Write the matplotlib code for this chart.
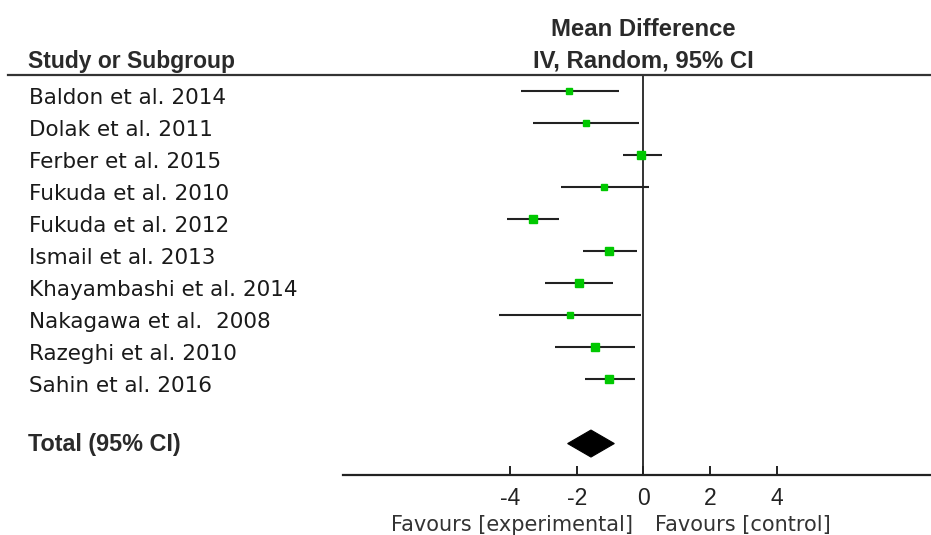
import matplotlib
matplotlib.use("Agg")
import matplotlib.pyplot as plt
from matplotlib.lines import Line2D
from matplotlib.patches import Polygon

studies = ["Baldon et al. 2014", "Dolak et al. 2011", "Ferber et al. 2015",
           "Fukuda et al. 2010", "Fukuda et al. 2012", "Ismail et al. 2013",
           "Khayambashi et al. 2014", "Nakagawa et al.  2008", "Razeghi et al. 2010",
           "Sahin et al. 2016"]
mean_diff = [-2.23, -1.72, -0.06, -1.17, -3.31, -1.02, -1.93, -2.20, -1.45, -1.02]
ci_low = [-3.67, -3.31, -0.60, -2.47, -4.09, -1.80, -2.95, -4.33, -2.64, -1.74]
ci_high = [-0.72, -0.12, 0.55, 0.18, -2.52, -0.18, -0.90, -0.06, -0.24, -0.24]
weights = [9.0, 7.0, 12.0, 7.0, 11.5, 11.0, 10.5, 6.0, 11.0, 11.5]
total_label = "Total (95% CI)"
total_mean, total_low, total_high = -1.57, -2.27, -0.87
xticks = [-4, -2, 0, 2, 4]

W, H = 931, 535
plt.rcParams['font.family'] = ['Liberation Sans', 'DejaVu Sans']
fig = plt.figure(figsize=(W / 100, H / 100), dpi=100)

# plot axes: left at px 343, right at 931, top at header line (75), bottom at axis line (475)
x_left_px, x_zero_px, px_per_unit = 343, 643.3, 33.33
top_px, bot_px = 75, 475
row0_px, row_step = 91, 32.05
ax = fig.add_axes([x_left_px / W, 1 - bot_px / H, (W - x_left_px) / W, (bot_px - top_px) / H])
ax.set_xlim((x_left_px - x_zero_px) / px_per_unit, (W - x_zero_px) / px_per_unit)
ax.set_ylim((bot_px - row0_px) / row_step, (top_px - row0_px) / row_step)

for s in ["top", "right", "left"]:
    ax.spines[s].set_visible(False)
ax.spines["bottom"].set_linewidth(1.6)
ax.spines["bottom"].set_color("#222222")
ax.set_yticks([])
ax.set_xticks(xticks)
ax.set_xticklabels([str(t) for t in xticks], family=['Liberation Sans'])
ax.tick_params(axis="x", direction="in", length=6.5, width=1.4, color="#222222",
               labelsize=16.5, labelcolor="#222222", pad=8.5)
ax.patch.set_alpha(0)

ax.axvline(0, color="#333333", lw=1.4, zorder=1)

text_color = "#1a1a1a"
reg_font = ['DejaVu Sans']
for i, (name, m, lo, hi, w) in enumerate(zip(studies, mean_diff, ci_low, ci_high, weights)):
    ax.plot([lo, hi], [i, i], color="#222222", lw=1.5, solid_capstyle="butt", zorder=2)
    ax.plot([m], [i], marker="s", color="#00c800", markeredgecolor="#00c800",
            markersize=1.5 * w ** 0.5 + 0.5, zorder=3, linestyle="none")
    fig.text(29 / W, 1 - (row0_px + i * row_step + 12.5) / H, name, fontsize=15.5,
             family=reg_font, color=text_color, va="baseline", ha="left")

yt = len(studies) + 1
h = 13.5 / row_step
diamond = Polygon([[total_low, yt], [total_mean, yt - h], [total_high, yt], [total_mean, yt + h]],
                  closed=True, facecolor="black", edgecolor="black", lw=0.8, zorder=3)
ax.add_patch(diamond)
bold_color = "#2a2a2a"
fig.text(28 / W, 1 - 451 / H, total_label, fontsize=16.8,
         fontweight="bold", color=bold_color, va="baseline", ha="left")

# header
fig.add_artist(Line2D([8 / W, 1.0], [1 - top_px / H, 1 - top_px / H], color="#333333", lw=1.6))
fig.text(28 / W, 1 - 68 / H, "Study or Subgroup", fontsize=16.5, fontweight="bold",
         color=bold_color, va="baseline", ha="left")
fig.text(x_zero_px / W, 1 - 36 / H, "Mean Difference", fontsize=17.2, fontweight="bold",
         color=bold_color, va="baseline", ha="center")
fig.text(x_zero_px / W, 1 - 67.5 / H, "IV, Random, 95% CI", fontsize=17.2, fontweight="bold",
         color=bold_color, va="baseline", ha="center")

# favours labels
fig.text(633 / W, 1 - 531 / H, "Favours [experimental]", fontsize=15, family=reg_font,
         color="#333333", va="baseline", ha="right")
fig.text(655 / W, 1 - 531 / H, "Favours [control]", fontsize=15, family=reg_font,
         color="#333333", va="baseline", ha="left")

fig.savefig("out.png", dpi=100)
